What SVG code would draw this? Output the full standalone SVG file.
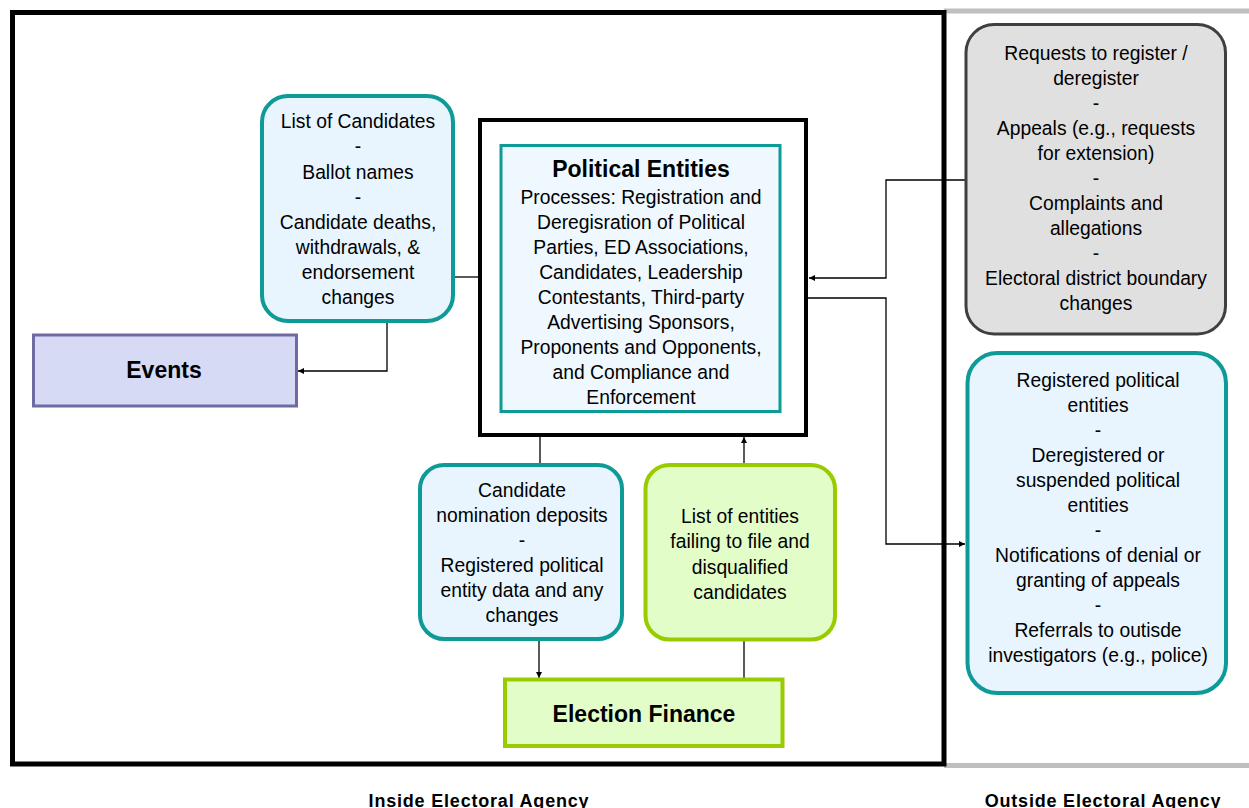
<svg xmlns="http://www.w3.org/2000/svg" width="1249" height="808" viewBox="0 0 1249 808">
  <style>
    .t { font-family: "Liberation Sans", Arial, sans-serif; font-size: 19.3px; fill: #000; text-anchor: middle; }
    .title { font-family: "Liberation Sans", Arial, sans-serif; font-size: 23px; font-weight: bold; fill: #000; text-anchor: middle; }
    .zone { font-family: "Liberation Sans", Arial, sans-serif; font-size: 18px; font-weight: bold; letter-spacing: 0.8px; fill: #000; text-anchor: middle; }
    .teal { fill: #E8F5FE; stroke: #0E9A96; stroke-width: 4; }
    .green { fill: #E3FDC9; stroke: #99CC00; stroke-width: 4; }
    .conn { fill: none; stroke: #000; stroke-width: 1.3; }
  </style>
  <defs>
    <marker id="arrow" viewBox="0 0 8 8" refX="8" refY="4" markerWidth="6" markerHeight="6" markerUnits="userSpaceOnUse" orient="auto">
      <path d="M0,0 L8,4 L0,8 Z" fill="#000"/>
    </marker>
  </defs>

  <rect width="1249" height="808" fill="#FFFFFF"/>

  <!-- agency boundaries -->
  <g id="outside-frame">
    <line x1="944" y1="11" x2="1249" y2="11" stroke="#BFBFBF" stroke-width="5"/>
    <line x1="944" y1="765.5" x2="1249" y2="765.5" stroke="#BFBFBF" stroke-width="5"/>
  </g>
  <g id="inside-frame">
    <rect x="12.5" y="12.5" width="931.5" height="751.5" fill="none" stroke="#000" stroke-width="5"/>
  </g>

  <!-- connectors -->
  <g id="connectors">
    <path class="conn" d="M454,277 L480,277"/>
    <path class="conn" d="M387,322 L387,371 L298,371" marker-end="url(#arrow)"/>
    <path class="conn" d="M965,180 L886,180 L886,278 L809,278" marker-end="url(#arrow)"/>
    <path class="conn" d="M808,298 L886,298 L886,544 L965,544" marker-end="url(#arrow)"/>
    <path class="conn" d="M540,437 L540,463"/>
    <path class="conn" d="M539,640 L539,678" marker-end="url(#arrow)"/>
    <path class="conn" d="M744,678 L744,641"/>
    <path class="conn" d="M744,463 L744,437" marker-end="url(#arrow)"/>
  </g>

  <g id="list-of-candidates">
    <rect class="teal" x="262" y="96" width="191" height="225" rx="26"/>
    <text class="t" x="358" y="128">List of Candidates</text>
    <text class="t" x="358" y="153">-</text>
    <text class="t" x="358" y="179">Ballot names</text>
    <text class="t" x="358" y="204">-</text>
    <text class="t" x="358" y="229">Candidate deaths,</text>
    <text class="t" x="358" y="254">withdrawals, &amp;</text>
    <text class="t" x="358" y="279">endorsement</text>
    <text class="t" x="358" y="304">changes</text>
  </g>

  <g id="events">
    <rect x="33.5" y="335" width="263" height="71" fill="#D6DAF5" stroke="#6E6BA3" stroke-width="3"/>
    <text class="title" x="164" y="378">Events</text>
  </g>

  <g id="political-entities">
    <rect x="480" y="120" width="326" height="315" fill="#FFFFFF" stroke="#000" stroke-width="4"/>
    <rect x="501" y="145.5" width="279" height="266" fill="#EEF8FE" stroke="#0E9A96" stroke-width="3"/>
    <text class="title" x="641" y="177">Political Entities</text>
    <text class="t" x="641" y="204">Processes: Registration and</text>
    <text class="t" x="641" y="229">Deregisration of Political</text>
    <text class="t" x="641" y="254">Parties, ED Associations,</text>
    <text class="t" x="641" y="279">Candidates, Leadership</text>
    <text class="t" x="641" y="304">Contestants, Third-party</text>
    <text class="t" x="641" y="329">Advertising Sponsors,</text>
    <text class="t" x="641" y="354">Proponents and Opponents,</text>
    <text class="t" x="641" y="379">and Compliance and</text>
    <text class="t" x="641" y="404">Enforcement</text>
  </g>

  <g id="incoming-requests">
    <rect x="966" y="24.5" width="259.5" height="309.5" rx="28" fill="#E0E0E0" stroke="#3F3F3F" stroke-width="3"/>
    <text class="t" x="1096" y="60">Requests to register /</text>
    <text class="t" x="1096" y="85">deregister</text>
    <text class="t" x="1096" y="110">-</text>
    <text class="t" x="1096" y="135">Appeals (e.g., requests</text>
    <text class="t" x="1096" y="160">for extension)</text>
    <text class="t" x="1096" y="185">-</text>
    <text class="t" x="1096" y="210">Complaints and</text>
    <text class="t" x="1096" y="235">allegations</text>
    <text class="t" x="1096" y="260">-</text>
    <text class="t" x="1096" y="285">Electoral district boundary</text>
    <text class="t" x="1096" y="310">changes</text>
  </g>

  <g id="outgoing-notices">
    <rect class="teal" x="967.5" y="353" width="258.5" height="340" rx="30"/>
    <text class="t" x="1098" y="387">Registered political</text>
    <text class="t" x="1098" y="412">entities</text>
    <text class="t" x="1098" y="437">-</text>
    <text class="t" x="1098" y="462">Deregistered or</text>
    <text class="t" x="1098" y="487">suspended political</text>
    <text class="t" x="1098" y="512">entities</text>
    <text class="t" x="1098" y="537">-</text>
    <text class="t" x="1098" y="562">Notifications of denial or</text>
    <text class="t" x="1098" y="587">granting of appeals</text>
    <text class="t" x="1098" y="612">-</text>
    <text class="t" x="1098" y="637">Referrals to outisde</text>
    <text class="t" x="1098" y="662">investigators (e.g., police)</text>
  </g>

  <g id="nomination-deposits">
    <rect class="teal" x="420" y="465" width="202" height="174" rx="24"/>
    <text class="t" x="522" y="497">Candidate</text>
    <text class="t" x="522" y="522">nomination deposits</text>
    <text class="t" x="522" y="547">-</text>
    <text class="t" x="522" y="572">Registered political</text>
    <text class="t" x="522" y="597">entity data and any</text>
    <text class="t" x="522" y="622">changes</text>
  </g>

  <g id="failing-entities">
    <rect class="green" x="645.5" y="465" width="189.5" height="174.5" rx="24"/>
    <text class="t" x="740" y="523">List of entities</text>
    <text class="t" x="740" y="548">failing to file and</text>
    <text class="t" x="740" y="574">disqualified</text>
    <text class="t" x="740" y="599">candidates</text>
  </g>

  <g id="election-finance">
    <rect class="green" x="505" y="679.5" width="277.5" height="66.5"/>
    <text class="title" x="644" y="722">Election Finance</text>
  </g>

  <g id="zone-labels">
    <text class="zone" x="479" y="806.5">Inside Electoral Agency</text>
    <text class="zone" x="1103" y="806.5">Outside Electoral Agency</text>
  </g>
</svg>
